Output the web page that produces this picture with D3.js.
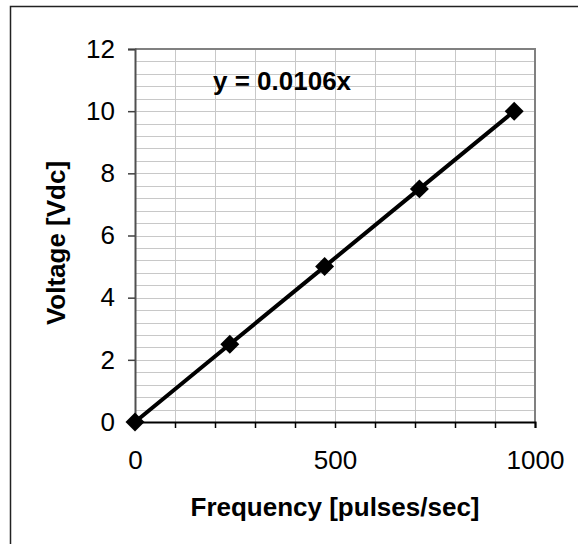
<!DOCTYPE html>
<html>
<head>
<meta charset="utf-8">
<script src="https://cdn.jsdelivr.net/npm/d3@7"></script>
<style>
body { margin: 0; background: #fff; }
svg { font-family: 'Liberation Sans', Arial, Helvetica, sans-serif; }
</style>
</head>
<body>
<svg id="chart"></svg>
<script>
// Data
var frequency = [0, 237, 474, 711, 948];      // pulses/sec
var voltage   = [0, 2.5, 5, 7.5, 10];         // Vdc
var xTickValues = d3.range(0, 1001, 100);
var xTickLabels = [0, 500, 1000];
var yTickValues = [0, 2, 4, 6, 8, 10, 12];
var yGridValues = d3.range(0, 12.01, 0.4);
var equationLabel = 'y = 0.0106x';

var width = 578, height = 544;
var plot = { left: 135, right: 535, top: 49, bottom: 422 };

var svg = d3.select('#chart').attr('width', width).attr('height', height);

// outer chart frame (runs off the right and bottom edges)
svg.append('rect')
    .attr('x', 10.5).attr('y', 6.5)
    .attr('width', 600).attr('height', 600)
    .attr('fill', 'none').attr('stroke', '#222').attr('stroke-width', 1.5);

var x = d3.scaleLinear().domain([0, 1000]).range([plot.left, plot.right]);
var y = d3.scaleLinear().domain([0, 12]).range([plot.bottom, plot.top]);

// gridlines
svg.append('g').selectAll('line').data(xTickValues.slice(1, -1))
    .enter().append('line')
    .attr('x1', function (d) { return Math.round(x(d)) + 0.5; })
    .attr('x2', function (d) { return Math.round(x(d)) + 0.5; })
    .attr('y1', plot.top).attr('y2', plot.bottom)
    .attr('stroke', '#c8c8c8').attr('stroke-width', 1);

svg.append('g').selectAll('line').data(yGridValues.slice(1, -1))
    .enter().append('line')
    .attr('y1', function (d) { return Math.round(y(d)) + 0.5; })
    .attr('y2', function (d) { return Math.round(y(d)) + 0.5; })
    .attr('x1', plot.left).attr('x2', plot.right)
    .attr('stroke', '#c8c8c8').attr('stroke-width', 1);

// top and right plot border
svg.append('path')
    .attr('d', 'M' + plot.left + ',' + plot.top + 'H' + plot.right + 'V' + plot.bottom)
    .attr('fill', 'none').attr('stroke', '#808080').attr('stroke-width', 2);

// x axis
var xAxis = d3.axisBottom(x)
    .tickValues(xTickValues)
    .tickSize(6)
    .tickPadding(23)
    .tickFormat(function (d) { return xTickLabels.indexOf(d) >= 0 ? d : ''; });

var gx = svg.append('g')
    .attr('transform', 'translate(0,' + plot.bottom + ')')
    .call(xAxis);
gx.select('.domain').attr('stroke', '#000').attr('stroke-width', 2);
gx.selectAll('.tick line').attr('stroke', '#000').attr('stroke-width', 1.5);
gx.selectAll('.tick text').attr('font-size', 26).attr('fill', '#000')
    .attr('font-family', "'Liberation Sans', Arial, sans-serif");

// y axis
var yAxis = d3.axisLeft(y)
    .tickValues(yTickValues)
    .tickSize(7)
    .tickPadding(13);

var gy = svg.append('g')
    .attr('transform', 'translate(' + plot.left + ',0)')
    .call(yAxis);
gy.select('.domain').attr('stroke', '#505050').attr('stroke-width', 2);
gy.selectAll('.tick line').attr('stroke', '#404040').attr('stroke-width', 1.5);
gy.selectAll('.tick text').attr('font-size', 26).attr('fill', '#000')
    .attr('font-family', "'Liberation Sans', Arial, sans-serif");

// series line + diamond markers
var points = frequency.map(function (f, i) { return [f, voltage[i]]; });

svg.append('path')
    .datum(points)
    .attr('d', d3.line().x(function (d) { return x(d[0]); }).y(function (d) { return y(d[1]); }))
    .attr('fill', 'none').attr('stroke', '#000').attr('stroke-width', 4);

svg.append('g').selectAll('path').data(points)
    .enter().append('path')
    .attr('d', d3.symbol().type(d3.symbolSquare).size(180))
    .attr('transform', function (d) { return 'translate(' + x(d[0]) + ',' + y(d[1]) + ')rotate(45)'; })
    .attr('fill', '#000');

// equation label
svg.append('text')
    .attr('x', x(0) + 78).attr('y', 90)
    .attr('font-size', 26).attr('font-weight', 'bold')
    .text(equationLabel);

// axis titles
svg.append('text')
    .attr('x', (plot.left + plot.right) / 2).attr('y', 516)
    .attr('text-anchor', 'middle')
    .attr('font-size', 26).attr('font-weight', 'bold')
    .text('Frequency [pulses/sec]');

svg.append('text')
    .attr('transform', 'translate(65,243)rotate(-90)')
    .attr('text-anchor', 'middle')
    .attr('font-size', 26).attr('font-weight', 'bold')
    .text('Voltage [Vdc]');
</script>
</body>
</html>
